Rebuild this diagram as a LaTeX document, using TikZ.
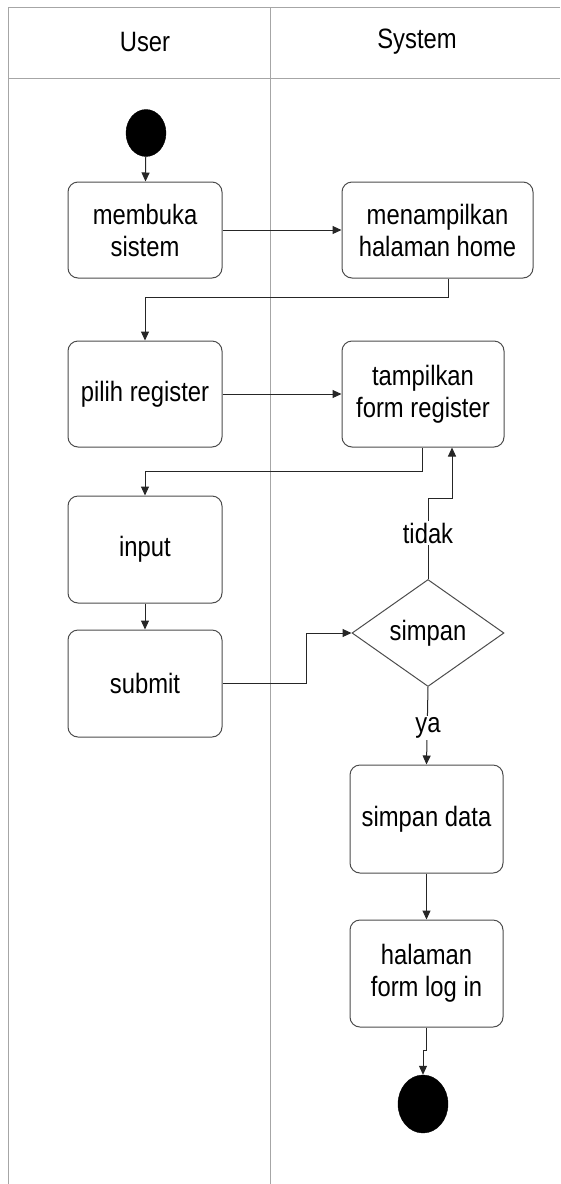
\documentclass[tikz,border=0pt]{standalone}
\usepackage{fontspec}
\setmainfont{Liberation Sans}[FakeStretch=0.85]
\usetikzlibrary{arrows.meta,shapes.geometric}
\begin{document}
\begin{tikzpicture}[x=1pt,y=-1pt,
 act/.style={draw=black!70, rounded corners=10pt, line width=1pt, align=center,
   font=\fontsize{28}{32}\selectfont, inner sep=0pt, text=black},
 flow/.style={draw=black!85, line width=1pt, -{Triangle[length=9pt,width=8pt]}},
 lane/.style={draw=black!35, line width=1pt},
 dot/.style={ellipse, fill=black, draw=black, inner sep=0pt},
 lbl/.style={font=\fontsize{28}{32}\selectfont, fill=white, inner sep=2pt, text=black},
 hdr/.style={font=\fontsize{28}{32}\selectfont, text=black}]
\useasboundingbox (0,0) rectangle (560,1184);
% swimlanes
\draw[lane] (560,7) -- (8,7) -- (8,1184);
\draw[lane] (8,78) -- (560,78);
\draw[lane] (270,7) -- (270,1184);
\node[hdr] (huser) at (145,42) {User};
\node[hdr] (hsys) at (417,42) {System};
% nodes
\node[dot, minimum width=40pt, minimum height=47pt] (start) at (146,133) {};
\node[act, minimum width=154pt, minimum height=96pt] (membuka) at (145,230) {membuka\\sistem};
\node[act, minimum width=191pt, minimum height=96pt] (home) at (437.5,230) {menampilkan\\halaman home};
\node[act, minimum width=154pt, minimum height=106pt] (pilih) at (145,394) {pilih register};
\node[act, minimum width=162pt, minimum height=106pt] (form) at (423,394) {tampilkan\\form register};
\node[act, minimum width=154pt, minimum height=107pt] (input) at (145,549.5) {input};
\node[act, minimum width=154pt, minimum height=107pt] (submit) at (145,683.5) {submit};
\node[diamond, draw=black!70, line width=1pt, inner sep=0pt, minimum width=152pt, minimum height=107pt,
  font=\fontsize{28}{32}\selectfont, text=black] (simpan) at (428,633) {simpan};
\node[act, minimum width=153pt, minimum height=108pt] (data) at (426.5,819) {simpan data};
\node[act, minimum width=153pt, minimum height=107pt] (login) at (426.5,973.5) {halaman\\form log in};
\node[dot, minimum width=50pt, minimum height=58pt] (end) at (423,1104) {};
% connectors
\draw[flow] (start) -- (membuka);
\draw[flow] (membuka) -- (home);
\draw[flow] ([xshift=10.5pt]home.south) -- ++(0,19) -| (pilih.north);
\draw[flow] (pilih) -- (form);
\draw[flow] ([xshift=-1pt]form.south) -- ++(0,24) -| (input.north);
\draw[flow] (input) -- (submit);
\draw[flow] (submit.east) -- ++(84,0) |- (simpan.west);
\draw[flow] (simpan.north) -- ++(0,-81) -| ([xshift=29pt]form.south);
\node[lbl] (tidak) at (428,533) {tidak};
\draw[flow] (simpan.south) -- (data.north);
\node[lbl] (ya) at (428,728) {ya};
\draw[flow] (data) -- (login);
\draw[flow] (login.south) -- ++(0,23) -| (end.north);
\end{tikzpicture}
\end{document}
